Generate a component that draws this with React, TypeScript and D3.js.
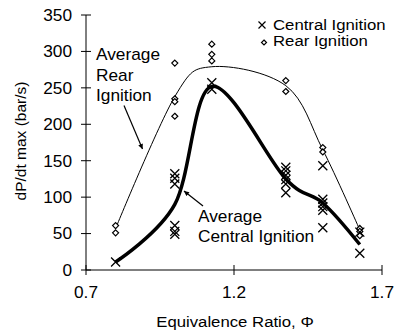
import React, { useEffect, useRef } from 'react';
import * as d3 from 'd3';

// equivalence ratios tested
const phiValues = [0.8, 1.0, 1.125, 1.375, 1.5, 1.625];

// individual runs, one list per phi
const centralRuns = [
  [11],
  [132, 126, 118, 61, 53, 49],
  [257, 248],
  [141, 136, 130, 124, 118, 106],
  [143, 97, 92, 87, 82, 58],
  [52, 23],
];
const rearRuns = [
  [61, 51],
  [284, 235, 231, 211],
  [310, 296, 287],
  [260, 245],
  [168, 162],
  [57, 53, 47],
];

// averaged curves
const avgCentral = [11, 90, 252, 125, 92, 35];
const avgRear = [57, 238, 279, 253, 165, 55];

const yTicks = [0, 50, 100, 150, 200, 250, 300, 350];
const xTicks = [0.7, 1.2, 1.7];

const W = 398;
const H = 335;
const FONT = 'Liberation Sans, Arial, sans-serif';
const SX = 1.08; // source text looks slightly stretched horizontally

const App: React.FC = () => {
  const svgRef = useRef<SVGSVGElement>(null);

  useEffect(() => {
    const svg = d3.select(svgRef.current);
    svg.selectAll('*').remove();

    const x = d3.scaleLinear().domain([0.7, 1.7]).range([86, 382]);
    const y = d3.scaleLinear().domain([0, 350]).range([270, 15]);

    const label = (tx: number, ty: number, s: string, size: number, anchor = 'start') =>
      svg.append('text')
        .attr('transform', `translate(${tx},${ty}) scale(${SX},1)`)
        .attr('text-anchor', anchor)
        .attr('font-family', FONT)
        .attr('font-size', size)
        .attr('fill', '#000')
        .text(s);

    // arrowhead
    svg.append('defs').append('marker')
      .attr('id', 'arrow')
      .attr('viewBox', '0 0 10 10')
      .attr('refX', 10)
      .attr('refY', 5)
      .attr('markerWidth', 7)
      .attr('markerHeight', 5)
      .attr('markerUnits', 'userSpaceOnUse')
      .attr('orient', 'auto')
      .append('path')
      .attr('d', 'M0,0L10,5L0,10Z')
      .attr('fill', '#000');

    // axes
    const axes = svg.append('g').attr('stroke', '#000').attr('stroke-width', 1);
    axes.append('line')
      .attr('x1', x(0.7)).attr('x2', x(0.7))
      .attr('y1', y(350)).attr('y2', y(0));
    axes.append('line')
      .attr('x1', x(0.7)).attr('x2', x(1.7))
      .attr('y1', y(0)).attr('y2', y(0));
    yTicks.forEach(t => {
      axes.append('line')
        .attr('x1', x(0.7) - 5).attr('x2', x(0.7) + 5)
        .attr('y1', y(t)).attr('y2', y(t));
      label(72, y(t) + 5.8, String(t), 16, 'end');
    });
    xTicks.forEach(t => {
      axes.append('line')
        .attr('x1', x(t)).attr('x2', x(t))
        .attr('y1', y(0) - 5).attr('y2', y(0) + 5);
      label(x(t), 298, String(t), 16, 'middle');
    });

    // axis titles
    svg.append('text')
      .attr('transform', `translate(26,141) rotate(-90)`)
      .attr('text-anchor', 'middle')
      .attr('font-family', FONT)
      .attr('font-size', 15.5)
      .text('dP/dt max (bar/s)');
    label(235, 327, 'Equivalence Ratio, Φ', 15.5, 'middle');

    // average curves
    const line = d3.line<number>()
      .x((_d, i) => x(phiValues[i]))
      .y(d => y(d))
      .curve(d3.curveCardinal.tension(0));

    svg.append('path')
      .attr('d', line(avgRear))
      .attr('fill', 'none')
      .attr('stroke', '#000')
      .attr('stroke-width', 1);
    svg.append('path')
      .attr('d', line(avgCentral))
      .attr('fill', 'none')
      .attr('stroke', '#000')
      .attr('stroke-width', 3.5)
      .attr('stroke-linejoin', 'round');

    const cross = 'M-4.5,-4.5L4.5,4.5M-4.5,4.5L4.5,-4.5';
    const diamond = 'M0,-3L3,0L0,3L-3,0Z';

    // rear runs
    rearRuns.forEach((vals, i) => {
      vals.forEach(v => {
        svg.append('path')
          .attr('d', diamond)
          .attr('transform', `translate(${x(phiValues[i])},${y(v)})`)
          .attr('fill', '#fff')
          .attr('stroke', '#000')
          .attr('stroke-width', 1.2);
      });
    });

    // central runs
    centralRuns.forEach((vals, i) => {
      vals.forEach(v => {
        svg.append('path')
          .attr('d', cross)
          .attr('transform', `translate(${x(phiValues[i])},${y(v)})`)
          .attr('fill', 'none')
          .attr('stroke', '#000')
          .attr('stroke-width', 1.3);
      });
    });

    // legend
    svg.append('path')
      .attr('d', 'M-3.5,-3.5L3.5,3.5M-3.5,3.5L3.5,-3.5')
      .attr('transform', 'translate(262,25)')
      .attr('stroke', '#000')
      .attr('stroke-width', 1.2);
    label(273, 29.5, 'Central Ignition', 15.5);
    svg.append('path')
      .attr('d', 'M0,-2.5L2.5,0L0,2.5L-2.5,0Z')
      .attr('transform', 'translate(264,42.5)')
      .attr('fill', '#fff')
      .attr('stroke', '#000')
      .attr('stroke-width', 1.2);
    label(273, 45.5, 'Rear Ignition', 15.5);

    // annotations
    label(96, 60, 'Average', 16);
    label(96, 81, 'Rear', 16);
    label(96, 101, 'Ignition', 16);
    svg.append('line')
      .attr('x1', 124).attr('y1', 105.5)
      .attr('x2', 142.5).attr('y2', 149)
      .attr('stroke', '#000')
      .attr('stroke-width', 1.2)
      .attr('marker-end', 'url(#arrow)');

    label(198, 222, 'Average', 16);
    label(198, 242, 'Central Ignition', 16);
    svg.append('line')
      .attr('x1', 203).attr('y1', 206)
      .attr('x2', 184).attr('y2', 191)
      .attr('stroke', '#000')
      .attr('stroke-width', 1.2)
      .attr('marker-end', 'url(#arrow)');
  }, []);

  return (
    <svg
      ref={svgRef}
      width={W}
      height={H}
      style={{ position: 'absolute', left: 0, top: 0, background: '#fff' }}
    />
  );
};

export default App;
